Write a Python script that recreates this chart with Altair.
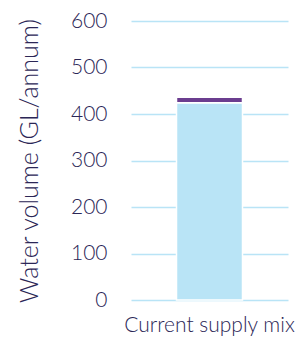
import altair as alt
import pandas as pd

categories = ["Current supply mix", "Current supply mix"]
sources = ["Main supply", "Other supply"]
values = [424, 12]
stack_order = [1, 2]
colors = ["#b9e4f6", "#6b3d8f"]

df = pd.DataFrame({"cat": categories, "source": sources, "value": values, "ord": stack_order})

text_color = "#2b2656"

chart = alt.Chart(df).mark_bar(stroke="white", strokeWidth=1.5, size=66).encode(
    x=alt.X("cat:N", title=None,
            axis=alt.Axis(labelAngle=0, labelFontSize=21, labelColor=text_color,
                          labelFont="Lato", labelFontWeight=300, domain=False, ticks=False,
                          labelPadding=14)),
    y=alt.Y("value:Q", title="Water volume (GL/annum)",
            scale=alt.Scale(domain=[0, 600]),
            axis=alt.Axis(values=[0, 100, 200, 300, 400, 500, 600], labelFontSize=21,
                          labelColor=text_color, labelFont="Lato", labelFontWeight=300,
                          domain=False, ticks=False,
                          labelPadding=24, gridColor="#b9e4f6", gridWidth=1.5,
                          titleFontSize=25, titleFont="Lato", titleFontWeight=300,
                          titleColor=text_color, titlePadding=28)),
    color=alt.Color("source:N", scale=alt.Scale(domain=sources, range=colors), legend=None),
    order=alt.Order("ord:Q"),
).properties(
    width=157, height=279,
    autosize=alt.AutoSizeParams(type="none"),
    padding={"left": 123, "top": 13, "right": 11, "bottom": 38},
).configure_view(stroke=None).configure_axisX(grid=False)

chart.save("out.html", embed_options={"renderer": "svg", "actions": False})
